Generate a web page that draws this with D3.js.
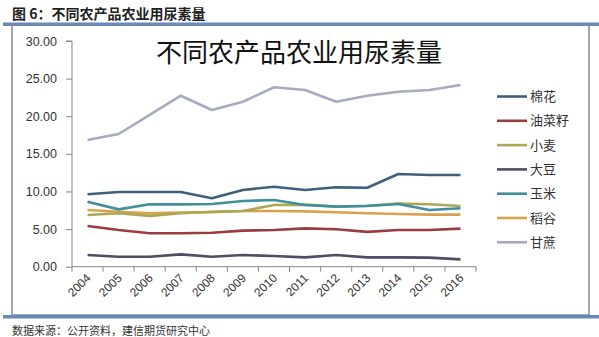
<!DOCTYPE html>
<html>
<head>
<meta charset="utf-8">
<script src="https://cdn.jsdelivr.net/npm/d3@7/dist/d3.min.js"></script>
<style>
  html, body { margin: 0; padding: 0; background: #fff; }
  svg { display: block; font-family: "Noto Sans CJK SC", "Noto Sans", sans-serif; }
</style>
</head>
<body>
<svg id="chart" width="599" height="337"></svg>
<script>
// Years on the category axis
const years = ["2004","2005","2006","2007","2008","2009","2010","2011","2012","2013","2014","2015","2016"];

// Urea use per crop
const cotton    = [9.62, 9.93, 9.93, 9.93, 9.09, 10.2, 10.63, 10.2, 10.55, 10.5, 12.32, 12.19, 12.19];
const rapeseed  = [5.41, 4.88, 4.45, 4.45, 4.52, 4.79, 4.88, 5.1, 4.97, 4.63, 4.88, 4.88, 5.06];
const wheat     = [6.88, 7.1, 6.75, 7.1, 7.3, 7.4, 8.2, 8.25, 8.0, 8.1, 8.4, 8.3, 8.07];
const soybean   = [1.55, 1.33, 1.33, 1.64, 1.33, 1.55, 1.42, 1.24, 1.55, 1.24, 1.24, 1.2, 0.98];
const corn      = [8.64, 7.62, 8.29, 8.29, 8.33, 8.73, 8.87, 8.2, 7.98, 8.07, 8.33, 7.54, 7.76];
const rice      = [7.54, 7.3, 7.1, 7.2, 7.25, 7.4, 7.4, 7.35, 7.23, 7.1, 7.0, 6.92, 6.92];
const sugarcane = [16.84, 17.64, 20.17, 22.73, 20.83, 21.93, 23.85, 23.49, 21.93, 22.73, 23.26, 23.49, 24.15];

const seriesNames  = ["棉花", "油菜籽", "小麦", "大豆", "玉米", "稻谷", "甘蔗"];
const seriesValues = [cotton, rapeseed, wheat, soybean, corn, rice, sugarcane];
const seriesColors = ["#3f5f7e", "#9a3d3f", "#aaa852", "#4f4b68", "#3f8f9c", "#d9a14c", "#a7aac0"];

const yTicks = [0, 5, 10, 15, 20, 25, 30];

const svg = d3.select("#chart");

// Header and source note
svg.append("text")
  .attr("x", 12).attr("y", 19)
  .attr("font-size", 14).attr("font-weight", "bold").attr("fill", "#222")
  .text("图 6：不同农产品农业用尿素量");

svg.append("text")
  .attr("x", 12).attr("y", 335)
  .attr("font-size", 11).attr("fill", "#333")
  .text("数据来源：公开资料，建信期货研究中心");

// Chart frame
svg.append("rect")
  .attr("x", 12).attr("y", 25).attr("width", 577).attr("height", 290)
  .attr("fill", "none").attr("stroke", "#8a8a8a").attr("stroke-width", 1.5);

// Blue rules above and below the chart
svg.append("rect").attr("x", 3).attr("y", 22.5).attr("width", 596).attr("height", 3.5).attr("fill", "#6a88b8");
svg.append("rect").attr("x", 3).attr("y", 315).attr("width", 596).attr("height", 3.5).attr("fill", "#6a88b8");

// Scales
const x = d3.scaleBand().domain(years).range([72, 476]).paddingInner(0).paddingOuter(0);
const y = d3.scaleLinear().domain([0, 30]).range([266.7, 41]);
const cx = d => x(d) + x.bandwidth() / 2;

// Chart title
svg.append("text")
  .attr("x", 299).attr("y", 62)
  .attr("text-anchor", "middle")
  .attr("font-size", 26).attr("fill", "#111")
  .text("不同农产品农业用尿素量");

// Y axis
const yAxis = svg.append("g")
  .attr("transform", "translate(72,0)")
  .call(d3.axisLeft(y).tickValues(yTicks).tickFormat(d3.format(".2f")).tickSize(6).tickPadding(9));
yAxis.select(".domain").attr("stroke", "#868686").attr("d", `M-6,${y(30)}H0V${y(0)}`);
yAxis.selectAll(".tick line").attr("stroke", "#868686");
yAxis.selectAll(".tick text").attr("font-size", 12.5).attr("fill", "#333")
  .attr("font-family", "Liberation Sans, Arial, sans-serif");

// X axis: line, ticks at category boundaries, rotated labels
const xg = svg.append("g");
xg.append("line")
  .attr("x1", x.range()[0]).attr("x2", x.range()[1])
  .attr("y1", y(0)).attr("y2", y(0))
  .attr("stroke", "#868686");
xg.selectAll("line.tick")
  .data(d3.range(years.length + 1))
  .join("line")
  .attr("class", "tick")
  .attr("x1", i => x.range()[0] + i * x.step())
  .attr("x2", i => x.range()[0] + i * x.step())
  .attr("y1", y(0)).attr("y2", y(0) + 5)
  .attr("stroke", "#868686");
xg.selectAll("text")
  .data(years)
  .join("text")
  .attr("text-anchor", "end")
  .attr("font-size", 12).attr("fill", "#333")
  .attr("font-family", "Liberation Sans, Arial, sans-serif")
  .attr("transform", d => `translate(${cx(d) + 4},${y(0) + 12}) rotate(-45)`)
  .text(d => d);

// Series lines
const line = d3.line().x((d, i) => cx(years[i])).y(d => y(d));
const drawOrder = [6, 3, 1, 5, 2, 4, 0];
svg.append("g").selectAll("path")
  .data(drawOrder)
  .join("path")
  .attr("d", k => line(seriesValues[k]))
  .attr("fill", "none")
  .attr("stroke", k => seriesColors[k])
  .attr("stroke-width", 2.6)
  .attr("stroke-linejoin", "round");

// Legend
const legend = svg.append("g");
const rows = legend.selectAll("g")
  .data(seriesNames)
  .join("g")
  .attr("transform", (d, i) => `translate(497,${96.5 + i * 24.3})`);
rows.append("line")
  .attr("x1", 0).attr("x2", 30).attr("y1", 0).attr("y2", 0)
  .attr("stroke", (d, i) => seriesColors[i]).attr("stroke-width", 2.6);
rows.append("text")
  .attr("x", 33).attr("y", 0).attr("dy", "0.35em")
  .attr("font-size", 13).attr("fill", "#333")
  .text(d => d);
</script>
</body>
</html>
